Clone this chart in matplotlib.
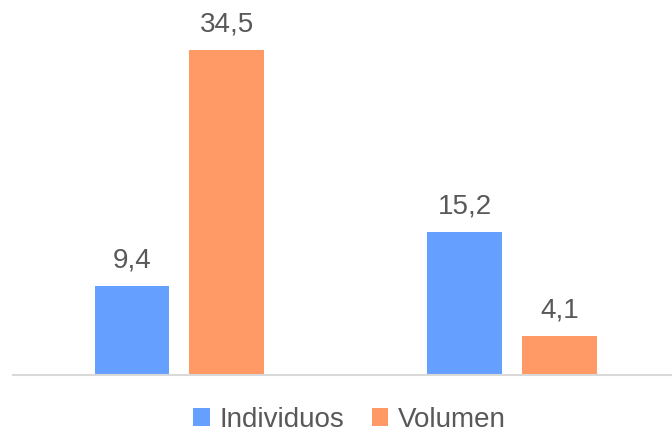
import numpy as np
import matplotlib.pyplot as plt

# data
groups = ["A", "B"]
individuos = [9.4, 15.2]
volumen = [34.5, 4.1]
series_names = ["Individuos", "Volumen"]

blue = "#659FFF"
orange = "#FF9966"
text_gray = "#595959"

plt.rcParams["font.family"] = ["Liberation Sans", "DejaVu Sans"]

fig = plt.figure(figsize=(6.72, 4.32), dpi=100)
ax = fig.add_axes([13 / 672, 57 / 432, 1 - 13 / 672, 375 / 432])

x = np.arange(len(groups))
w = 0.225
off = 0.1426
b1 = ax.bar(x - off, individuos, w, color=blue, label=series_names[0])
b2 = ax.bar(x + off, volumen, w, color=orange, label=series_names[1])

for bars in (b1, b2):
    labels = [f"{v:.1f}".replace(".", ",") for v in bars.datavalues]
    ax.bar_label(bars, labels=labels, padding=9, fontsize=20, color=text_gray)

ax.set_xlim(-0.5, 1.48)
ax.set_ylim(0, 39.8)
ax.set_xticks([])
ax.set_yticks([])
for side in ("top", "right", "left"):
    ax.spines[side].set_visible(False)
ax.spines["bottom"].set_color("#D9D9D9")
ax.spines["bottom"].set_linewidth(1.5)

fig.legend(loc="center", bbox_to_anchor=(0.52, 0.028), ncol=2, frameon=False,
           fontsize=20, labelcolor=text_gray, handlelength=0.6, handleheight=0.6,
           handletextpad=0.35, columnspacing=1.0)

fig.savefig("out.png", dpi=100)
